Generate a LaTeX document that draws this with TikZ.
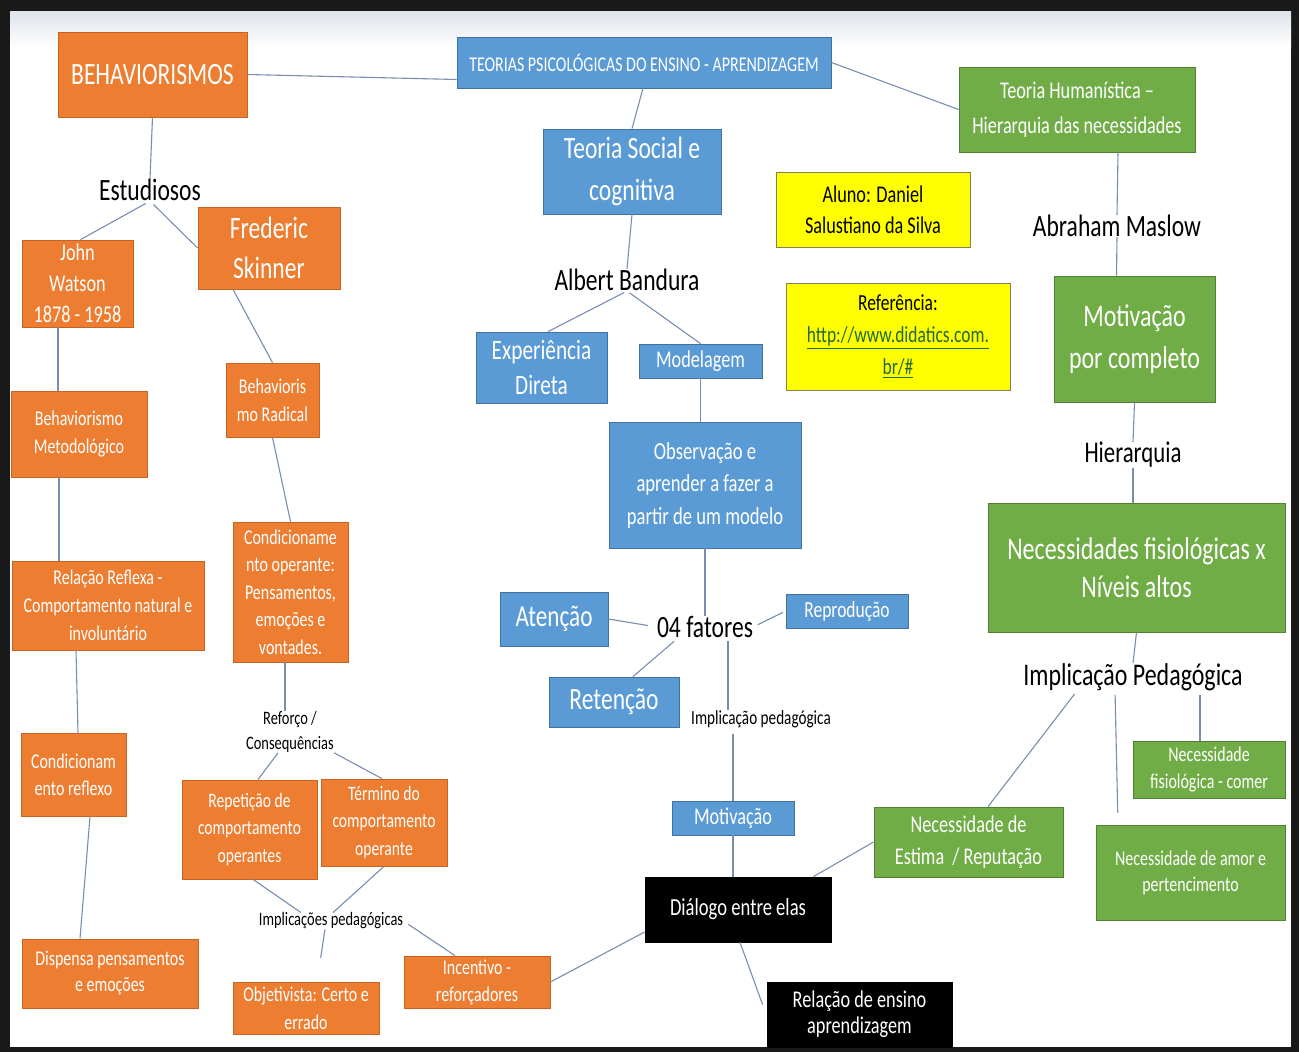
\documentclass[tikz,border=0pt]{standalone}
\usepackage{fontspec}
\setmainfont{Carlito}[FakeStretch=0.76]
\usetikzlibrary{calc}
\definecolor{orng}{RGB}{237,125,49}
\definecolor{orngd}{RGB}{200,100,35}
\definecolor{blu}{RGB}{91,155,213}
\definecolor{blud}{RGB}{65,113,156}
\definecolor{grn}{RGB}{112,173,71}
\definecolor{grnd}{RGB}{80,126,50}
\definecolor{yel}{RGB}{255,255,0}
\definecolor{yeld}{RGB}{130,130,80}
\definecolor{linec}{RGB}{120,142,175}
\definecolor{linkc}{RGB}{35,105,60}
\definecolor{frame}{RGB}{25,25,25}
\definecolor{topshade}{RGB}{222,228,234}
\newcommand{\myfs}[2]{\fontsize{#1pt}{#2pt}\selectfont}
\tikzset{
  box/.style={rectangle, inner sep=0pt, align=center, line width=0.8pt},
  obox/.style={box, fill=orng, draw=orngd, text=white},
  bbox/.style={box, fill=blu, draw=blud, text=white},
  gbox/.style={box, fill=grn, draw=grnd, text=white},
  ybox/.style={box, fill=yel, draw=yeld, text=black},
  kbox/.style={box, fill=black, draw=black, text=white},
  lbl/.style={inner sep=0pt, align=center, text=black},
  conn/.style={draw=linec, line width=1.1pt},
}
\begin{document}
\begin{tikzpicture}[x=1pt,y=-1pt]
% frame
\fill[frame] (0,0) rectangle (1299,1052);
\useasboundingbox (0,0) rectangle (1299,1052);
\fill[white] (10,11) rectangle (1291,1047);
\shade[top color=topshade, bottom color=white] (10,11) rectangle (1291,48);

% orange boxes
\node[obox, minimum width=189pt, minimum height=85pt, font=\myfs{31}{38}] (beh) at (152.5,74.5) {BEHAVIORISMOS};
\node[obox, minimum width=111pt, minimum height=87pt, font=\myfs{24}{31}] (john) at (77.5,283.5) {John\\Watson\\1878 - 1958};
\node[obox, minimum width=142pt, minimum height=82pt, font=\myfs{31}{40}] (skin) at (269,248) {Frederic\\Skinner};
\node[obox, minimum width=93pt, minimum height=74pt, font=\myfs{21}{28}] (radical) at (272.5,400) {Behavioris\\mo Radical};
\node[obox, minimum width=136pt, minimum height=86pt, font=\myfs{21}{28}] (metod) at (79,434) {Behaviorismo\\Metodológico};
\node[obox, minimum width=192pt, minimum height=89pt, font=\myfs{21}{28}] (reflexa) at (108,605.5) {Relação Reflexa -\\Comportamento natural e\\involuntário};
\node[obox, minimum width=115pt, minimum height=140pt, font=\myfs{21}{27.5}] (condop) at (290.5,592) {Condicioname\\nto operante:\\Pensamentos,\\emoções e\\vontades.};
\node[obox, minimum width=105pt, minimum height=83pt, font=\myfs{21}{27}] (condref) at (73.5,774.5) {Condicionam\\ento reflexo};
\node[obox, minimum width=176pt, minimum height=69pt, font=\myfs{21}{26}] (disp) at (110,973.5) {Dispensa pensamentos\\e emoções};
\node[obox, minimum width=135pt, minimum height=99pt, font=\myfs{20.5}{27.5}] (repet) at (249.5,829.5) {Repetição de\\comportamento\\operantes};
\node[obox, minimum width=126pt, minimum height=87pt, font=\myfs{20.5}{27.5}] (term) at (384,822.5) {Término do\\comportamento\\operante};
\node[obox, minimum width=146pt, minimum height=52pt, font=\myfs{21}{28}] (objet) at (306,1008) {Objetivista: Certo e\\errado};
\node[obox, minimum width=146pt, minimum height=52pt, font=\myfs{21}{27}] (incent) at (477,982) {Incentivo -\\reforçadores};

% blue boxes
\node[bbox, minimum width=374pt, minimum height=51pt, font=\myfs{21}{26}] (teo) at (644,62.5) {TEORIAS PSICOLÓGICAS DO ENSINO - APRENDIZAGEM};
\node[bbox, minimum width=178pt, minimum height=85pt, font=\myfs{31}{42}] (soc) at (632,171.5) {Teoria Social e\\cognitiva};
\node[bbox, minimum width=131pt, minimum height=71pt, font=\myfs{28}{35}] (exp) at (541.5,367.5) {Experiência\\Direta};
\node[bbox, minimum width=123pt, minimum height=34pt, font=\myfs{24}{30}] (model) at (700.5,361) {Modelagem};
\node[bbox, minimum width=192pt, minimum height=126pt, font=\myfs{24.5}{32.5}] (obs) at (705,485) {Observação e\\aprender a fazer a\\partir de um modelo};
\node[bbox, minimum width=108pt, minimum height=54pt, font=\myfs{30.5}{36}] (aten) at (554,619) {Atenção};
\node[bbox, minimum width=130pt, minimum height=50pt, font=\myfs{31}{36}] (reten) at (614,702) {Retenção};
\node[bbox, minimum width=122pt, minimum height=34pt, font=\myfs{23}{28}] (repro) at (847,611) {Reprodução};
\node[bbox, minimum width=122pt, minimum height=34pt, font=\myfs{24}{28}] (motivb) at (733,818) {Motivação};

% black boxes
\node[kbox, minimum width=186pt, minimum height=65pt, font=\myfs{24.5}{30}] (dialog) at (738,909.5) {Diálogo entre elas};
\node[kbox, minimum width=185pt, minimum height=65pt, font=\myfs{24}{26}] (relens) at (859.5,1014.5) {Relação de ensino\\aprendizagem};

% yellow boxes
\node[ybox, minimum width=194pt, minimum height=75pt, font=\myfs{24}{31}] (aluno) at (873,209.5) {Aluno: Daniel\\Salustiano da Silva};
\node[ybox, minimum width=224pt, minimum height=107pt, font=\myfs{23}{32}] (ref) at (898,336.5) {Referência:\\{\color{linkc}\underline{http://www.didatics.com.}}\\{\color{linkc}\underline{br/\#}}};

% green boxes
\node[gbox, minimum width=236pt, minimum height=85pt, font=\myfs{24}{35}] (hum) at (1077,109.5) {Teoria Humanística –\\Hierarquia das necessidades};
\node[gbox, minimum width=161pt, minimum height=126pt, font=\myfs{31.5}{42}] (motivc) at (1134.5,339) {Motivação\\por completo};
\node[gbox, minimum width=297pt, minimum height=129pt, font=\myfs{31.5}{38}] (necess) at (1136.5,567.5) {Necessidades fisiológicas x\\Níveis altos};
\node[gbox, minimum width=152pt, minimum height=57pt, font=\myfs{21}{27}] (comer) at (1209,769.5) {Necessidade\\fisiológica - comer};
\node[gbox, minimum width=189pt, minimum height=70pt, font=\myfs{24}{32}] (estima) at (968.5,842) {Necessidade de\\Estima~~/ Reputação};
\node[gbox, minimum width=189pt, minimum height=95pt, font=\myfs{21}{26}] (amor) at (1190.5,872.5) {Necessidade de amor e\\pertencimento};

% plain labels
\node[lbl, font=\myfs{31}{36}] (estud) at (150,190) {Estudiosos};
\node[lbl, font=\myfs{19}{25}] (reforco) at (290,732) {Reforço /\\Consequências};
\node[lbl, font=\myfs{19}{24}] (implic) at (331,921) {Implicações pedagógicas};
\node[lbl, font=\myfs{31}{36}] (bandura) at (627,280) {Albert Bandura};
\node[lbl, font=\myfs{31}{36}] (fatores) at (705,627) {04 fatores};
\node[lbl, font=\myfs{20}{24}] (implsmall) at (761,719) {Implicação pedagógica};
\node[lbl, font=\myfs{31}{36}] (maslow) at (1117,226) {Abraham Maslow};
\node[lbl, font=\myfs{30}{36}] (hier) at (1133,455) {Hierarquia};
\node[lbl, font=\myfs{31.5}{36}] (implbig) at (1133,677) {Implicação Pedagógica};

% connectors
\draw[conn] (beh.east) -- ([yshift=-17pt]teo.west);
\draw[conn] (beh.south) -- (estud.north);
\draw[conn, shorten <=5pt] (estud.south) -- ([xshift=3pt]john.north);
\draw[conn, shorten <=5pt] (estud.south) -- (skin.west);
\draw[conn] ([xshift=-36pt]skin.south) -- (radical.north);
\draw[conn] ([xshift=-19.5pt]john.south) -- ([xshift=-21pt]metod.north);
\draw[conn] ([xshift=-20pt]metod.south) -- ([xshift=-49pt]reflexa.north);
\draw[conn] (radical.south) -- (condop.north);
\draw[conn] ([xshift=-32pt]reflexa.south) -- ([xshift=4.5pt]condref.north);
\draw[conn] ([xshift=16.5pt]condref.south) -- ([xshift=-30pt]disp.north);
\draw[conn] ([xshift=-5.5pt]condop.south) -- ([xshift=-5pt]reforco.north);
\draw[conn] ([xshift=-12pt]reforco.south) -- ([xshift=8.5pt]repet.north);
\draw[conn] (reforco.south east) -- ([xshift=-2pt]term.north);
\draw[conn] ([xshift=3.5pt]repet.south) -- ([xshift=-30pt]implic.north);
\draw[conn] (term.south) -- ([xshift=2pt]implic.north);
\draw[conn, shorten >=24pt] ([xshift=-6pt]implic.south) -- ([xshift=11pt]objet.north);
\draw[conn, shorten <=6pt] (implic.east) -- ([xshift=-22pt]incent.north);
\draw[conn] ([xshift=-1pt]teo.south) -- (soc.north);
\draw[conn] (soc.south) -- (bandura.north);
\draw[conn, shorten <=3pt] (bandura.south) -- ([xshift=6.5pt]exp.north);
\draw[conn, shorten <=3pt] (bandura.south) -- (model.north);
\draw[conn] (model.south) -- ([xshift=-4.5pt]obs.north);
\draw[conn] (obs.south) -- (fatores.north);
\draw[conn, shorten >=9pt] (aten.east) -- (fatores.west);
\draw[conn, shorten <=5pt] ([xshift=-27pt]fatores.south) -- ([xshift=19pt]reten.north);
\draw[conn, shorten <=5pt, shorten >=3pt] (fatores.east) -- (repro.west);
\draw[conn, shorten <=3pt] ([xshift=23pt]fatores.south) -- ([xshift=-33pt]implsmall.north);
\draw[conn, shorten <=6pt] ([xshift=-28pt]implsmall.south) -- (motivb.north);
\draw[conn] (motivb.south) -- ([xshift=-5pt]dialog.north);
\draw[conn] ([yshift=-22.5pt]dialog.west) -- (incent.east);
\draw[conn] ([xshift=2pt]dialog.south) -- ([xshift=-4pt,yshift=-23pt]relens.north west);
\draw[conn] ([xshift=-18pt]dialog.north east) -- (estima.west);
\draw[conn] (teo.east) -- (hum.west);
\draw[conn] ([xshift=41pt]hum.south) -- (maslow.north);
\draw[conn] (maslow.south) -- ([xshift=-18pt]motivc.north);
\draw[conn] (motivc.south) -- (hier.north);
\draw[conn] (hier.south) -- ([xshift=-3.5pt]necess.north);
\draw[conn] (necess.south) -- (implbig.north);
\draw[conn, shorten <=4pt] ([xshift=-56pt]implbig.south) -- ([xshift=19.5pt]estima.north);
\draw[conn, shorten <=4pt, shorten >=12pt] ([xshift=-18pt]implbig.south) -- ([xshift=-72.5pt]amor.north);
\draw[conn, shorten <=4pt] ([xshift=67pt]implbig.south) -- ([xshift=-9pt]comer.north);
\end{tikzpicture}
\end{document}
